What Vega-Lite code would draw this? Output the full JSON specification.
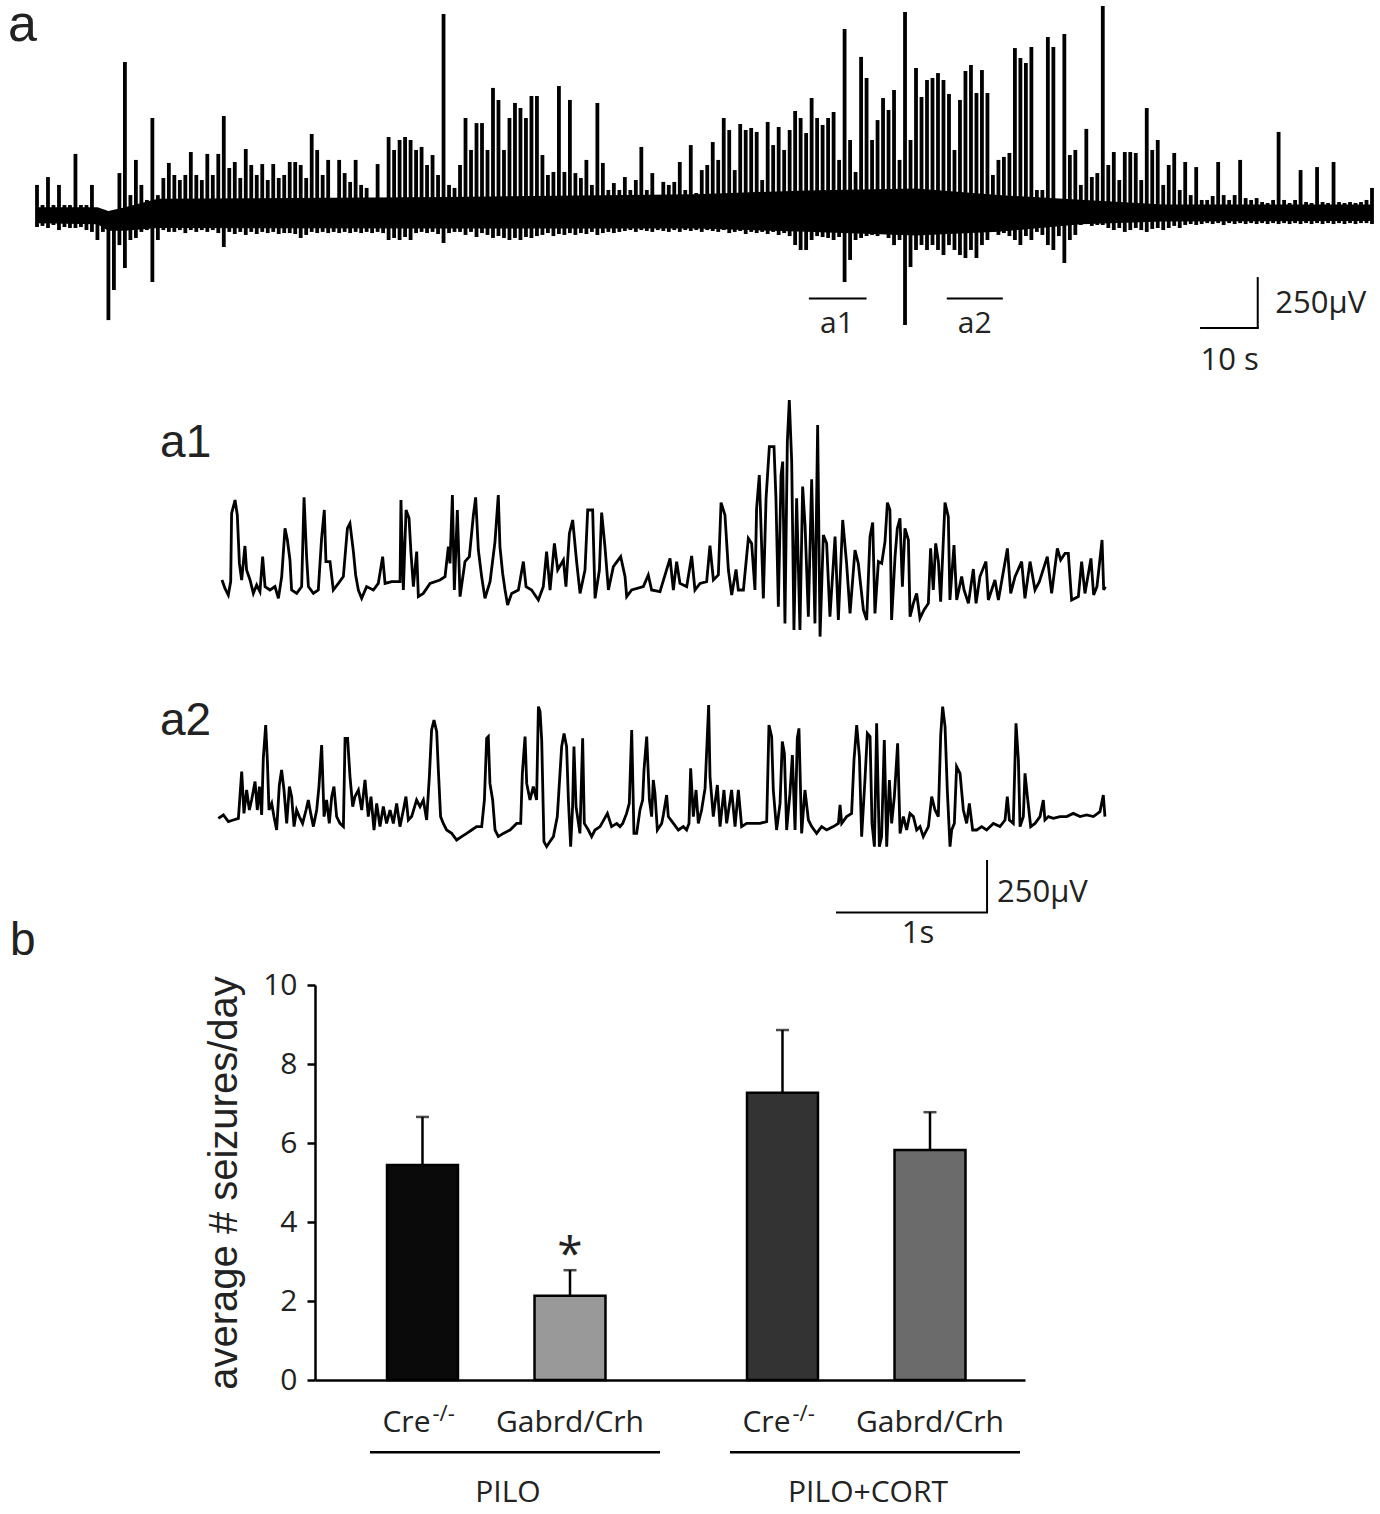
{
"$schema":"https://vega.github.io/schema/vega-lite/v6.json",
"width":1380,"height":1514,"autosize":{"type":"none"},"padding":0,
"background":"white",
"config":{"view":{"stroke":null},"text":{"color":"#1a1a1a"}},
"datasets":{
"core":[{"t":0,"hi":25,"lo":-60},{"t":11,"hi":25,"lo":-65},{"t":13,"hi":5,"lo":-100},{"t":16,"hi":25,"lo":-100},{"t":22,"hi":70,"lo":-85},{"t":75,"hi":80,"lo":-88},{"t":120,"hi":95,"lo":-88},{"t":140,"hi":115,"lo":-105},{"t":160,"hi":125,"lo":-125},{"t":175,"hi":90,"lo":-105},{"t":190,"hi":65,"lo":-65},{"t":205,"hi":40,"lo":-50},{"t":243,"hi":40,"lo":-48}],
"main":[{"t":0,"hi":144,"lo":-80},{"t":1,"hi":37,"lo":-74},{"t":2,"hi":186,"lo":-85},{"t":3,"hi":37,"lo":-69},{"t":4,"hi":144,"lo":-96},{"t":5,"hi":37,"lo":-80},{"t":6,"hi":37,"lo":-85},{"t":7,"hi":309,"lo":-85},{"t":8,"hi":37,"lo":-80},{"t":9,"hi":37,"lo":-96},{"t":10,"hi":144,"lo":-106},{"t":11,"hi":11,"lo":-149},{"t":12,"hi":11,"lo":-106},{"t":13,"hi":-16,"lo":-575},{"t":14,"hi":0,"lo":-415},{"t":15,"hi":207,"lo":-176},{"t":16,"hi":798,"lo":-298},{"t":17,"hi":90,"lo":-149},{"t":18,"hi":277,"lo":-138},{"t":19,"hi":144,"lo":-106},{"t":20,"hi":64,"lo":-96},{"t":21,"hi":500,"lo":-372},{"t":22,"hi":90,"lo":-149},{"t":23,"hi":181,"lo":-96},{"t":24,"hi":261,"lo":-106},{"t":25,"hi":197,"lo":-106},{"t":26,"hi":170,"lo":-96},{"t":27,"hi":197,"lo":-112},{"t":28,"hi":319,"lo":-96},{"t":29,"hi":197,"lo":-106},{"t":30,"hi":170,"lo":-96},{"t":31,"hi":309,"lo":-106},{"t":32,"hi":197,"lo":-96},{"t":33,"hi":309,"lo":-112},{"t":34,"hi":511,"lo":-186},{"t":35,"hi":234,"lo":-106},{"t":36,"hi":266,"lo":-117},{"t":37,"hi":181,"lo":-106},{"t":38,"hi":335,"lo":-122},{"t":39,"hi":250,"lo":-106},{"t":40,"hi":197,"lo":-117},{"t":41,"hi":255,"lo":-106},{"t":42,"hi":170,"lo":-112},{"t":43,"hi":255,"lo":-106},{"t":44,"hi":181,"lo":-117},{"t":45,"hi":197,"lo":-112},{"t":46,"hi":266,"lo":-112},{"t":47,"hi":266,"lo":-117},{"t":48,"hi":250,"lo":-138},{"t":49,"hi":181,"lo":-122},{"t":50,"hi":415,"lo":-106},{"t":51,"hi":330,"lo":-112},{"t":52,"hi":197,"lo":-106},{"t":53,"hi":277,"lo":-112},{"t":54,"hi":64,"lo":-106},{"t":55,"hi":277,"lo":-112},{"t":56,"hi":207,"lo":-106},{"t":57,"hi":160,"lo":-112},{"t":58,"hi":277,"lo":-106},{"t":59,"hi":144,"lo":-112},{"t":60,"hi":128,"lo":-106},{"t":61,"hi":64,"lo":-112},{"t":62,"hi":255,"lo":-106},{"t":63,"hi":64,"lo":-112},{"t":64,"hi":399,"lo":-149},{"t":65,"hi":330,"lo":-138},{"t":66,"hi":383,"lo":-149},{"t":67,"hi":399,"lo":-133},{"t":68,"hi":383,"lo":-149},{"t":69,"hi":330,"lo":-112},{"t":70,"hi":346,"lo":-106},{"t":71,"hi":250,"lo":-112},{"t":72,"hi":303,"lo":-106},{"t":73,"hi":197,"lo":-117},{"t":74,"hi":1053,"lo":-165},{"t":75,"hi":144,"lo":-112},{"t":76,"hi":128,"lo":-106},{"t":77,"hi":250,"lo":-106},{"t":78,"hi":500,"lo":-122},{"t":79,"hi":330,"lo":-106},{"t":80,"hi":473,"lo":-133},{"t":81,"hi":473,"lo":-112},{"t":82,"hi":330,"lo":-122},{"t":83,"hi":660,"lo":-138},{"t":84,"hi":596,"lo":-128},{"t":85,"hi":330,"lo":-138},{"t":86,"hi":500,"lo":-149},{"t":87,"hi":580,"lo":-138},{"t":88,"hi":553,"lo":-149},{"t":89,"hi":500,"lo":-133},{"t":90,"hi":617,"lo":-138},{"t":91,"hi":617,"lo":-128},{"t":92,"hi":303,"lo":-122},{"t":93,"hi":197,"lo":-112},{"t":94,"hi":213,"lo":-128},{"t":95,"hi":670,"lo":-117},{"t":96,"hi":213,"lo":-122},{"t":97,"hi":596,"lo":-112},{"t":98,"hi":207,"lo":-122},{"t":99,"hi":181,"lo":-112},{"t":100,"hi":277,"lo":-117},{"t":101,"hi":144,"lo":-106},{"t":102,"hi":580,"lo":-122},{"t":103,"hi":261,"lo":-112},{"t":104,"hi":117,"lo":-106},{"t":105,"hi":154,"lo":-112},{"t":106,"hi":117,"lo":-106},{"t":107,"hi":186,"lo":-101},{"t":108,"hi":117,"lo":-96},{"t":109,"hi":170,"lo":-106},{"t":110,"hi":346,"lo":-96},{"t":111,"hi":117,"lo":-101},{"t":112,"hi":207,"lo":-106},{"t":113,"hi":90,"lo":-96},{"t":114,"hi":160,"lo":-101},{"t":115,"hi":144,"lo":-106},{"t":116,"hi":160,"lo":-96},{"t":117,"hi":266,"lo":-106},{"t":118,"hi":117,"lo":-96},{"t":119,"hi":356,"lo":-101},{"t":120,"hi":101,"lo":-96},{"t":121,"hi":223,"lo":-106},{"t":122,"hi":250,"lo":-96},{"t":123,"hi":372,"lo":-101},{"t":124,"hi":277,"lo":-106},{"t":125,"hi":500,"lo":-96},{"t":126,"hi":436,"lo":-112},{"t":127,"hi":223,"lo":-106},{"t":128,"hi":468,"lo":-101},{"t":129,"hi":436,"lo":-117},{"t":130,"hi":447,"lo":-106},{"t":131,"hi":426,"lo":-112},{"t":132,"hi":170,"lo":-106},{"t":133,"hi":479,"lo":-117},{"t":134,"hi":356,"lo":-106},{"t":135,"hi":452,"lo":-122},{"t":136,"hi":330,"lo":-112},{"t":137,"hi":436,"lo":-128},{"t":138,"hi":537,"lo":-176},{"t":139,"hi":500,"lo":-202},{"t":140,"hi":420,"lo":-202},{"t":141,"hi":606,"lo":-149},{"t":142,"hi":500,"lo":-128},{"t":143,"hi":463,"lo":-133},{"t":144,"hi":500,"lo":-138},{"t":145,"hi":532,"lo":-149},{"t":146,"hi":277,"lo":-133},{"t":147,"hi":974,"lo":-372},{"t":148,"hi":383,"lo":-255},{"t":149,"hi":213,"lo":-149},{"t":150,"hi":825,"lo":-138},{"t":151,"hi":713,"lo":-128},{"t":152,"hi":383,"lo":-122},{"t":153,"hi":489,"lo":-128},{"t":154,"hi":606,"lo":-112},{"t":155,"hi":543,"lo":-138},{"t":156,"hi":649,"lo":-176},{"t":157,"hi":277,"lo":-149},{"t":158,"hi":1064,"lo":-601},{"t":159,"hi":383,"lo":-293},{"t":160,"hi":766,"lo":-202},{"t":161,"hi":612,"lo":-176},{"t":162,"hi":702,"lo":-202},{"t":163,"hi":713,"lo":-176},{"t":164,"hi":739,"lo":-202},{"t":165,"hi":702,"lo":-229},{"t":166,"hi":628,"lo":-176},{"t":167,"hi":330,"lo":-202},{"t":168,"hi":596,"lo":-229},{"t":169,"hi":750,"lo":-245},{"t":170,"hi":782,"lo":-202},{"t":171,"hi":633,"lo":-245},{"t":172,"hi":755,"lo":-176},{"t":173,"hi":633,"lo":-149},{"t":174,"hi":197,"lo":-106},{"t":175,"hi":277,"lo":-122},{"t":176,"hi":293,"lo":-112},{"t":177,"hi":314,"lo":-128},{"t":178,"hi":872,"lo":-149},{"t":179,"hi":819,"lo":-176},{"t":180,"hi":793,"lo":-128},{"t":181,"hi":878,"lo":-149},{"t":182,"hi":117,"lo":-106},{"t":183,"hi":117,"lo":-122},{"t":184,"hi":931,"lo":-176},{"t":185,"hi":878,"lo":-202},{"t":186,"hi":64,"lo":-128},{"t":187,"hi":947,"lo":-271},{"t":188,"hi":303,"lo":-149},{"t":189,"hi":330,"lo":-122},{"t":190,"hi":144,"lo":-69},{"t":191,"hi":442,"lo":-53},{"t":192,"hi":186,"lo":-74},{"t":193,"hi":207,"lo":-69},{"t":194,"hi":1096,"lo":-69},{"t":195,"hi":250,"lo":-85},{"t":196,"hi":319,"lo":-96},{"t":197,"hi":170,"lo":-85},{"t":198,"hi":319,"lo":-106},{"t":199,"hi":319,"lo":-96},{"t":200,"hi":314,"lo":-85},{"t":201,"hi":170,"lo":-96},{"t":202,"hi":553,"lo":-106},{"t":203,"hi":330,"lo":-90},{"t":204,"hi":383,"lo":-85},{"t":205,"hi":144,"lo":-96},{"t":206,"hi":250,"lo":-85},{"t":207,"hi":314,"lo":-74},{"t":208,"hi":117,"lo":-85},{"t":209,"hi":266,"lo":-69},{"t":210,"hi":90,"lo":-64},{"t":211,"hi":239,"lo":-69},{"t":212,"hi":64,"lo":-64},{"t":213,"hi":64,"lo":-59},{"t":214,"hi":85,"lo":-64},{"t":215,"hi":266,"lo":-59},{"t":216,"hi":90,"lo":-69},{"t":217,"hi":64,"lo":-59},{"t":218,"hi":90,"lo":-64},{"t":219,"hi":277,"lo":-59},{"t":220,"hi":74,"lo":-64},{"t":221,"hi":64,"lo":-59},{"t":222,"hi":74,"lo":-64},{"t":223,"hi":53,"lo":-59},{"t":224,"hi":48,"lo":-64},{"t":225,"hi":64,"lo":-59},{"t":226,"hi":426,"lo":-64},{"t":227,"hi":64,"lo":-59},{"t":228,"hi":48,"lo":-64},{"t":229,"hi":64,"lo":-59},{"t":230,"hi":223,"lo":-64},{"t":231,"hi":53,"lo":-59},{"t":232,"hi":48,"lo":-64},{"t":233,"hi":239,"lo":-59},{"t":234,"hi":53,"lo":-64},{"t":235,"hi":48,"lo":-59},{"t":236,"hi":266,"lo":-64},{"t":237,"hi":53,"lo":-59},{"t":238,"hi":48,"lo":-64},{"t":239,"hi":53,"lo":-59},{"t":240,"hi":48,"lo":-64},{"t":241,"hi":53,"lo":-59},{"t":242,"hi":64,"lo":-59},{"t":243,"hi":128,"lo":-64}],
"a1":[{"t":0,"v":50},{"t":0.02,"v":8},{"t":0.042,"v":-25},{"t":0.058,"v":42},{"t":0.064,"v":383},{"t":0.087,"v":450},{"t":0.102,"v":375},{"t":0.116,"v":133},{"t":0.131,"v":50},{"t":0.153,"v":220},{"t":0.164,"v":100},{"t":0.187,"v":50},{"t":0.209,"v":-17},{"t":0.231,"v":25},{"t":0.253,"v":-8},{"t":0.271,"v":167},{"t":0.287,"v":17},{"t":0.32,"v":0},{"t":0.353,"v":17},{"t":0.376,"v":-42},{"t":0.398,"v":67},{"t":0.42,"v":308},{"t":0.436,"v":250},{"t":0.453,"v":150},{"t":0.464,"v":0},{"t":0.498,"v":-17},{"t":0.531,"v":17},{"t":0.547,"v":463},{"t":0.564,"v":167},{"t":0.576,"v":17},{"t":0.609,"v":-17},{"t":0.642,"v":0},{"t":0.664,"v":258},{"t":0.682,"v":400},{"t":0.693,"v":142},{"t":0.72,"v":142},{"t":0.742,"v":0},{"t":0.776,"v":33},{"t":0.809,"v":67},{"t":0.836,"v":308},{"t":0.853,"v":333},{"t":0.876,"v":192},{"t":0.891,"v":75},{"t":0.909,"v":0},{"t":0.931,"v":-42},{"t":0.964,"v":17},{"t":1.009,"v":0},{"t":1.042,"v":33},{"t":1.071,"v":167},{"t":1.087,"v":33},{"t":1.131,"v":42},{"t":1.187,"v":42},{"t":1.193,"v":450},{"t":1.209,"v":0},{"t":1.227,"v":400},{"t":1.247,"v":358},{"t":1.26,"v":183},{"t":1.276,"v":17},{"t":1.298,"v":192},{"t":1.309,"v":-33},{"t":1.342,"v":-17},{"t":1.387,"v":33},{"t":1.453,"v":50},{"t":1.487,"v":67},{"t":1.509,"v":217},{"t":1.52,"v":133},{"t":1.536,"v":475},{"t":1.549,"v":0},{"t":1.569,"v":400},{"t":1.587,"v":-33},{"t":1.62,"v":142},{"t":1.649,"v":167},{"t":1.676,"v":375},{"t":1.691,"v":463},{"t":1.709,"v":200},{"t":1.731,"v":67},{"t":1.753,"v":-42},{"t":1.787,"v":42},{"t":1.82,"v":242},{"t":1.842,"v":475},{"t":1.853,"v":217},{"t":1.871,"v":83},{"t":1.887,"v":0},{"t":1.904,"v":-75},{"t":1.931,"v":-17},{"t":1.976,"v":0},{"t":2.009,"v":142},{"t":2.027,"v":17},{"t":2.064,"v":0},{"t":2.109,"v":-50},{"t":2.142,"v":17},{"t":2.164,"v":192},{"t":2.187,"v":0},{"t":2.216,"v":233},{"t":2.238,"v":100},{"t":2.276,"v":150},{"t":2.293,"v":17},{"t":2.316,"v":283},{"t":2.338,"v":350},{"t":2.364,"v":142},{"t":2.387,"v":-17},{"t":2.42,"v":100},{"t":2.438,"v":400},{"t":2.471,"v":400},{"t":2.487,"v":-42},{"t":2.516,"v":100},{"t":2.531,"v":387},{"t":2.553,"v":217},{"t":2.576,"v":0},{"t":2.609,"v":117},{"t":2.658,"v":167},{"t":2.687,"v":67},{"t":2.698,"v":-33},{"t":2.731,"v":0},{"t":2.809,"v":17},{"t":2.842,"v":75},{"t":2.864,"v":0},{"t":2.92,"v":-8},{"t":2.987,"v":158},{"t":3.009,"v":0},{"t":3.031,"v":142},{"t":3.053,"v":33},{"t":3.098,"v":17},{"t":3.131,"v":170},{"t":3.153,"v":0},{"t":3.187,"v":33},{"t":3.231,"v":42},{"t":3.253,"v":222},{"t":3.276,"v":50},{"t":3.309,"v":75},{"t":3.327,"v":437},{"t":3.353,"v":375},{"t":3.376,"v":100},{"t":3.398,"v":-25},{"t":3.427,"v":103},{"t":3.442,"v":0},{"t":3.476,"v":0},{"t":3.509,"v":258},{"t":3.531,"v":233},{"t":3.553,"v":0},{"t":3.564,"v":408},{"t":3.582,"v":575},{"t":3.609,"v":-42},{"t":3.627,"v":458},{"t":3.649,"v":717},{"t":3.68,"v":717},{"t":3.693,"v":458},{"t":3.709,"v":-83},{"t":3.727,"v":575},{"t":3.738,"v":642},{"t":3.753,"v":-167},{"t":3.769,"v":742},{"t":3.782,"v":950},{"t":3.798,"v":642},{"t":3.813,"v":-200},{"t":3.831,"v":458},{"t":3.853,"v":-200},{"t":3.871,"v":517},{"t":3.887,"v":325},{"t":3.909,"v":-133},{"t":3.931,"v":553},{"t":3.953,"v":-167},{"t":3.971,"v":825},{"t":3.987,"v":-233},{"t":4.009,"v":275},{"t":4.031,"v":233},{"t":4.053,"v":-133},{"t":4.087,"v":267},{"t":4.109,"v":-150},{"t":4.138,"v":350},{"t":4.164,"v":133},{"t":4.187,"v":-117},{"t":4.22,"v":200},{"t":4.242,"v":133},{"t":4.276,"v":-100},{"t":4.298,"v":-150},{"t":4.32,"v":267},{"t":4.338,"v":337},{"t":4.353,"v":-117},{"t":4.376,"v":142},{"t":4.398,"v":133},{"t":4.42,"v":242},{"t":4.436,"v":437},{"t":4.453,"v":400},{"t":4.464,"v":-150},{"t":4.487,"v":167},{"t":4.502,"v":308},{"t":4.52,"v":358},{"t":4.536,"v":17},{"t":4.553,"v":308},{"t":4.576,"v":250},{"t":4.587,"v":-133},{"t":4.609,"v":-67},{"t":4.631,"v":-17},{"t":4.653,"v":-142},{"t":4.68,"v":-100},{"t":4.709,"v":-67},{"t":4.724,"v":208},{"t":4.742,"v":0},{"t":4.758,"v":233},{"t":4.776,"v":142},{"t":4.791,"v":-58},{"t":4.82,"v":437},{"t":4.842,"v":367},{"t":4.853,"v":-50},{"t":4.88,"v":225},{"t":4.898,"v":-50},{"t":4.931,"v":67},{"t":4.947,"v":0},{"t":4.976,"v":-67},{"t":5.009,"v":105},{"t":5.027,"v":-67},{"t":5.053,"v":67},{"t":5.093,"v":142},{"t":5.109,"v":-50},{"t":5.153,"v":50},{"t":5.176,"v":-50},{"t":5.236,"v":208},{"t":5.258,"v":-17},{"t":5.287,"v":67},{"t":5.331,"v":142},{"t":5.353,"v":-42},{"t":5.387,"v":142},{"t":5.42,"v":0},{"t":5.449,"v":42},{"t":5.502,"v":167},{"t":5.531,"v":-17},{"t":5.569,"v":208},{"t":5.591,"v":150},{"t":5.62,"v":183},{"t":5.642,"v":183},{"t":5.664,"v":-50},{"t":5.709,"v":-33},{"t":5.731,"v":142},{"t":5.753,"v":-17},{"t":5.793,"v":158},{"t":5.811,"v":-25},{"t":5.833,"v":17},{"t":5.867,"v":250},{"t":5.878,"v":0},{"t":5.889,"v":17}],
"a2":[{"t":0.002,"v":8},{"t":0.036,"v":25},{"t":0.069,"v":-8},{"t":0.102,"v":0},{"t":0.136,"v":8},{"t":0.158,"v":242},{"t":0.173,"v":33},{"t":0.191,"v":150},{"t":0.209,"v":50},{"t":0.224,"v":100},{"t":0.247,"v":192},{"t":0.262,"v":50},{"t":0.276,"v":167},{"t":0.291,"v":25},{"t":0.302,"v":308},{"t":0.318,"v":475},{"t":0.329,"v":300},{"t":0.34,"v":50},{"t":0.358,"v":83},{"t":0.373,"v":17},{"t":0.391,"v":-50},{"t":0.409,"v":175},{"t":0.424,"v":250},{"t":0.44,"v":150},{"t":0.458,"v":-17},{"t":0.476,"v":167},{"t":0.491,"v":117},{"t":0.507,"v":-33},{"t":0.524,"v":50},{"t":0.542,"v":17},{"t":0.564,"v":-17},{"t":0.587,"v":50},{"t":0.602,"v":100},{"t":0.618,"v":33},{"t":0.636,"v":-33},{"t":0.658,"v":50},{"t":0.673,"v":167},{"t":0.691,"v":375},{"t":0.707,"v":17},{"t":0.724,"v":100},{"t":0.742,"v":-17},{"t":0.758,"v":117},{"t":0.773,"v":167},{"t":0.791,"v":17},{"t":0.813,"v":-17},{"t":0.836,"v":-33},{"t":0.847,"v":408},{"t":0.864,"v":408},{"t":0.88,"v":217},{"t":0.898,"v":67},{"t":0.913,"v":117},{"t":0.936,"v":150},{"t":0.958,"v":50},{"t":0.98,"v":200},{"t":1.002,"v":17},{"t":1.02,"v":117},{"t":1.04,"v":-50},{"t":1.058,"v":83},{"t":1.08,"v":-33},{"t":1.102,"v":67},{"t":1.124,"v":-17},{"t":1.147,"v":50},{"t":1.169,"v":-17},{"t":1.191,"v":83},{"t":1.213,"v":-33},{"t":1.236,"v":50},{"t":1.253,"v":117},{"t":1.269,"v":0},{"t":1.291,"v":17},{"t":1.324,"v":100},{"t":1.347,"v":67},{"t":1.369,"v":100},{"t":1.391,"v":0},{"t":1.409,"v":217},{"t":1.424,"v":450},{"t":1.44,"v":500},{"t":1.458,"v":442},{"t":1.469,"v":250},{"t":1.484,"v":17},{"t":1.502,"v":-17},{"t":1.524,"v":-50},{"t":1.558,"v":-67},{"t":1.591,"v":-100},{"t":1.624,"v":-83},{"t":1.658,"v":-67},{"t":1.691,"v":-50},{"t":1.724,"v":-33},{"t":1.758,"v":-33},{"t":1.776,"v":100},{"t":1.791,"v":408},{"t":1.802,"v":417},{"t":1.813,"v":183},{"t":1.831,"v":100},{"t":1.847,"v":-50},{"t":1.869,"v":-83},{"t":1.902,"v":-67},{"t":1.947,"v":-50},{"t":1.991,"v":-17},{"t":2.018,"v":-17},{"t":2.029,"v":233},{"t":2.047,"v":417},{"t":2.058,"v":183},{"t":2.08,"v":100},{"t":2.102,"v":167},{"t":2.124,"v":100},{"t":2.136,"v":567},{"t":2.147,"v":542},{"t":2.158,"v":400},{"t":2.173,"v":-108},{"t":2.191,"v":-133},{"t":2.213,"v":-108},{"t":2.236,"v":-83},{"t":2.262,"v":17},{"t":2.291,"v":367},{"t":2.307,"v":433},{"t":2.324,"v":367},{"t":2.336,"v":100},{"t":2.351,"v":-133},{"t":2.364,"v":67},{"t":2.373,"v":367},{"t":2.387,"v":67},{"t":2.413,"v":-67},{"t":2.431,"v":408},{"t":2.442,"v":-17},{"t":2.469,"v":-50},{"t":2.491,"v":-83},{"t":2.513,"v":-50},{"t":2.547,"v":-33},{"t":2.596,"v":33},{"t":2.624,"v":-33},{"t":2.658,"v":-17},{"t":2.68,"v":-33},{"t":2.698,"v":-17},{"t":2.724,"v":33},{"t":2.742,"v":83},{"t":2.758,"v":450},{"t":2.773,"v":-67},{"t":2.791,"v":-67},{"t":2.813,"v":50},{"t":2.831,"v":100},{"t":2.84,"v":250},{"t":2.858,"v":417},{"t":2.876,"v":100},{"t":2.891,"v":17},{"t":2.902,"v":200},{"t":2.913,"v":133},{"t":2.929,"v":-50},{"t":2.958,"v":-17},{"t":2.969,"v":25},{"t":2.991,"v":125},{"t":3.002,"v":17},{"t":3.036,"v":-17},{"t":3.069,"v":-50},{"t":3.102,"v":-33},{"t":3.124,"v":-50},{"t":3.14,"v":-17},{"t":3.151,"v":258},{"t":3.169,"v":17},{"t":3.187,"v":150},{"t":3.202,"v":-17},{"t":3.224,"v":50},{"t":3.247,"v":158},{"t":3.262,"v":417},{"t":3.271,"v":575},{"t":3.28,"v":217},{"t":3.302,"v":17},{"t":3.329,"v":175},{"t":3.347,"v":-33},{"t":3.373,"v":150},{"t":3.391,"v":-17},{"t":3.424,"v":150},{"t":3.447,"v":-33},{"t":3.469,"v":150},{"t":3.491,"v":-33},{"t":3.524,"v":-17},{"t":3.569,"v":-17},{"t":3.613,"v":-17},{"t":3.658,"v":-8},{"t":3.673,"v":475},{"t":3.691,"v":417},{"t":3.702,"v":150},{"t":3.724,"v":-50},{"t":3.747,"v":83},{"t":3.762,"v":392},{"t":3.776,"v":333},{"t":3.791,"v":-50},{"t":3.813,"v":133},{"t":3.829,"v":325},{"t":3.847,"v":-50},{"t":3.862,"v":408},{"t":3.873,"v":458},{"t":3.891,"v":-67},{"t":3.913,"v":150},{"t":3.936,"v":0},{"t":3.958,"v":-33},{"t":3.991,"v":-67},{"t":4.024,"v":-33},{"t":4.058,"v":-50},{"t":4.102,"v":-33},{"t":4.136,"v":-17},{"t":4.147,"v":75},{"t":4.158,"v":-17},{"t":4.191,"v":17},{"t":4.224,"v":33},{"t":4.24,"v":300},{"t":4.258,"v":475},{"t":4.276,"v":317},{"t":4.291,"v":-83},{"t":4.313,"v":200},{"t":4.329,"v":433},{"t":4.347,"v":417},{"t":4.36,"v":-17},{"t":4.376,"v":-133},{"t":4.391,"v":483},{"t":4.409,"v":-133},{"t":4.424,"v":-83},{"t":4.442,"v":400},{"t":4.458,"v":-133},{"t":4.476,"v":200},{"t":4.491,"v":-17},{"t":4.509,"v":117},{"t":4.531,"v":383},{"t":4.547,"v":-67},{"t":4.569,"v":17},{"t":4.591,"v":-50},{"t":4.613,"v":33},{"t":4.636,"v":17},{"t":4.658,"v":-50},{"t":4.68,"v":-33},{"t":4.702,"v":-83},{"t":4.736,"v":-33},{"t":4.758,"v":117},{"t":4.78,"v":50},{"t":4.802,"v":17},{"t":4.818,"v":425},{"t":4.831,"v":567},{"t":4.847,"v":467},{"t":4.862,"v":150},{"t":4.88,"v":-133},{"t":4.891,"v":-50},{"t":4.909,"v":-17},{"t":4.924,"v":267},{"t":4.947,"v":233},{"t":4.969,"v":50},{"t":4.991,"v":-17},{"t":5.009,"v":83},{"t":5.031,"v":-50},{"t":5.058,"v":-50},{"t":5.091,"v":-33},{"t":5.124,"v":-50},{"t":5.169,"v":-17},{"t":5.213,"v":-33},{"t":5.247,"v":0},{"t":5.262,"v":117},{"t":5.276,"v":0},{"t":5.302,"v":-17},{"t":5.32,"v":483},{"t":5.336,"v":300},{"t":5.347,"v":-33},{"t":5.369,"v":17},{"t":5.38,"v":233},{"t":5.396,"v":117},{"t":5.418,"v":-33},{"t":5.447,"v":-17},{"t":5.48,"v":17},{"t":5.502,"v":100},{"t":5.513,"v":0},{"t":5.536,"v":17},{"t":5.569,"v":8},{"t":5.613,"v":17},{"t":5.658,"v":17},{"t":5.702,"v":33},{"t":5.747,"v":17},{"t":5.791,"v":25},{"t":5.836,"v":17},{"t":5.88,"v":42},{"t":5.902,"v":125},{"t":5.913,"v":17}],
"bars":[{"group":"PILO","genotype":"Cre-/-","id":"PILO Cre","mean":5.44,"upper":6.66,"sig":""},{"group":"PILO","genotype":"Gabrd/Crh","id":"PILO Gabrd","mean":2.13,"upper":2.78,"sig":"*"},{"group":"PILO+CORT","genotype":"Cre-/-","id":"CORT Cre","mean":7.27,"upper":8.86,"sig":""},{"group":"PILO+CORT","genotype":"Gabrd/Crh","id":"CORT Gabrd","mean":5.82,"upper":6.78,"sig":""}],
"groups":[{"group":"PILO"},{"group":"PILO+CORT"}]
},
"resolve":{"scale":{"x":"independent","y":"independent","color":"independent"},"axis":{"x":"independent","y":"independent"}},
"layer":[
{"layer":[
{"data":{"name":"core"},"mark":{"type":"area","color":"black"},"encoding":{"x":{"field":"t","type":"quantitative","scale":{"domain":[0,243],"range":[37,1372],"nice":false,"zero":false},"axis":null},"y":{"field":"hi","type":"quantitative","scale":{"domain":[-600,1100],"range":[324.8,5.2],"nice":false,"zero":false},"axis":null},"y2":{"field":"lo"}}},
{"data":{"name":"main"},"mark":{"type":"rule","color":"black","strokeWidth":3.8},"encoding":{"x":{"field":"t","type":"quantitative","scale":{"domain":[0,243],"range":[37,1372],"nice":false,"zero":false},"axis":null},"y":{"field":"hi","type":"quantitative","scale":{"domain":[-600,1100],"range":[324.8,5.2],"nice":false,"zero":false},"axis":null},"y2":{"field":"lo"}}},
{"data":{"values":[{"win":"a1","start":140.5,"end":151.0},{"win":"a2","start":165.6,"end":175.8}]},"mark":{"type":"rule","color":"black","strokeWidth":2},"encoding":{"x":{"field":"start","type":"quantitative","scale":{"domain":[0,243],"range":[37,1372],"nice":false,"zero":false},"axis":null},"x2":{"field":"end"},"y":{"datum":-460,"type":"quantitative","scale":{"domain":[-600,1100],"range":[324.8,5.2],"nice":false,"zero":false},"axis":null}}},
{"data":{"values":[{"win":"a1","start":140.5,"end":151.0},{"win":"a2","start":165.6,"end":175.8}]},"mark":{"type":"text","font":"Open Sans","fontSize":30,"baseline":"alphabetic","align":"center","dx":28,"color":"#222"},"encoding":{"x":{"field":"start","type":"quantitative","scale":{"domain":[0,243],"range":[37,1372],"nice":false,"zero":false},"axis":null},"y":{"datum":-644,"type":"quantitative","scale":{"domain":[-600,1100],"range":[324.8,5.2],"nice":false,"zero":false},"axis":null},"text":{"field":"win"}}},
{"data":{"values":[{}]},"mark":{"type":"rule","color":"black","strokeWidth":2},"encoding":{"x":{"datum":222.2,"type":"quantitative","scale":{"domain":[0,243],"range":[37,1372],"nice":false,"zero":false},"axis":null},"y":{"datum":-346,"type":"quantitative","scale":{"domain":[-600,1100],"range":[324.8,5.2],"nice":false,"zero":false},"axis":null},"y2":{"datum":-617}}},
{"data":{"values":[{}]},"mark":{"type":"rule","color":"black","strokeWidth":2},"encoding":{"x":{"datum":211.7,"type":"quantitative","scale":{"domain":[0,243],"range":[37,1372],"nice":false,"zero":false},"axis":null},"x2":{"datum":222.4},"y":{"datum":-617,"type":"quantitative","scale":{"domain":[-600,1100],"range":[324.8,5.2],"nice":false,"zero":false},"axis":null}}},
{"data":{"values":[{}]},"mark":{"type":"text","text":"250µV","font":"Open Sans","fontSize":31,"align":"left","baseline":"alphabetic","color":"#222"},"encoding":{"x":{"datum":225.4,"type":"quantitative","scale":{"domain":[0,243],"range":[37,1372],"nice":false,"zero":false},"axis":null},"y":{"datum":-537,"type":"quantitative","scale":{"domain":[-600,1100],"range":[324.8,5.2],"nice":false,"zero":false},"axis":null}}},
{"data":{"values":[{}]},"mark":{"type":"text","text":"10 s","font":"Open Sans","fontSize":31,"align":"center","baseline":"alphabetic","color":"#222"},"encoding":{"x":{"datum":217.1,"type":"quantitative","scale":{"domain":[0,243],"range":[37,1372],"nice":false,"zero":false},"axis":null},"y":{"datum":-841,"type":"quantitative","scale":{"domain":[-600,1100],"range":[324.8,5.2],"nice":false,"zero":false},"axis":null}}},
{"data":{"values":[{}]},"mark":{"type":"text","text":"a","font":"Liberation Sans","fontSize":52,"align":"left","baseline":"alphabetic","color":"#222"},"encoding":{"x":{"datum":-5.3,"type":"quantitative","scale":{"domain":[0,243],"range":[37,1372],"nice":false,"zero":false},"axis":null},"y":{"datum":912,"type":"quantitative","scale":{"domain":[-600,1100],"range":[324.8,5.2],"nice":false,"zero":false},"axis":null}}}
]},
{"layer":[
{"data":{"name":"a1"},"mark":{"type":"line","color":"black","strokeWidth":2.8,"strokeJoin":"miter"},"encoding":{"x":{"field":"t","type":"quantitative","scale":{"domain":[0,5.9],"range":[222,1107],"nice":false,"zero":false},"axis":null},"y":{"field":"v","type":"quantitative","scale":{"domain":[-400,1000],"range":[670,390],"nice":false,"zero":false},"axis":null}}},
{"data":{"values":[{}]},"mark":{"type":"text","text":"a1","font":"Liberation Sans","fontSize":46,"align":"left","baseline":"alphabetic","color":"#222"},"encoding":{"x":{"datum":-0.413,"type":"quantitative","scale":{"domain":[0,5.9],"range":[222,1107],"nice":false,"zero":false},"axis":null},"y":{"datum":665,"type":"quantitative","scale":{"domain":[-400,1000],"range":[670,390],"nice":false,"zero":false},"axis":null}}}
]},
{"layer":[
{"data":{"name":"a2"},"mark":{"type":"line","color":"black","strokeWidth":2.8,"strokeJoin":"miter"},"encoding":{"x":{"field":"t","type":"quantitative","scale":{"domain":[0,5.9],"range":[218,1103],"nice":false,"zero":false},"axis":null},"y":{"field":"v","type":"quantitative","scale":{"domain":[-400,1000],"range":[900,620],"nice":false,"zero":false},"axis":null}}},
{"data":{"values":[{}]},"mark":{"type":"text","text":"a2","font":"Liberation Sans","fontSize":46,"align":"left","baseline":"alphabetic","color":"#222"},"encoding":{"x":{"datum":-0.387,"type":"quantitative","scale":{"domain":[0,5.9],"range":[218,1103],"nice":false,"zero":false},"axis":null},"y":{"datum":425,"type":"quantitative","scale":{"domain":[-400,1000],"range":[900,620],"nice":false,"zero":false},"axis":null}}},
{"data":{"values":[{}]},"mark":{"type":"text","text":"b","font":"Liberation Sans","fontSize":46,"align":"left","baseline":"alphabetic","color":"#222"},"encoding":{"x":{"datum":-1.387,"type":"quantitative","scale":{"domain":[0,5.9],"range":[218,1103],"nice":false,"zero":false},"axis":null},"y":{"datum":-675,"type":"quantitative","scale":{"domain":[-400,1000],"range":[900,620],"nice":false,"zero":false},"axis":null}}},
{"data":{"values":[{}]},"mark":{"type":"rule","color":"black","strokeWidth":2},"encoding":{"x":{"datum":5.127,"type":"quantitative","scale":{"domain":[0,5.9],"range":[218,1103],"nice":false,"zero":false},"axis":null},"y":{"datum":-200,"type":"quantitative","scale":{"domain":[-400,1000],"range":[900,620],"nice":false,"zero":false},"axis":null},"y2":{"datum":-463}}},
{"data":{"values":[{}]},"mark":{"type":"rule","color":"black","strokeWidth":2},"encoding":{"x":{"datum":4.12,"type":"quantitative","scale":{"domain":[0,5.9],"range":[218,1103],"nice":false,"zero":false},"axis":null},"x2":{"datum":5.133},"y":{"datum":-463,"type":"quantitative","scale":{"domain":[-400,1000],"range":[900,620],"nice":false,"zero":false},"axis":null}}},
{"data":{"values":[{}]},"mark":{"type":"text","text":"250µV","font":"Open Sans","fontSize":31,"align":"left","baseline":"alphabetic","color":"#222"},"encoding":{"x":{"datum":5.193,"type":"quantitative","scale":{"domain":[0,5.9],"range":[218,1103],"nice":false,"zero":false},"axis":null},"y":{"datum":-410,"type":"quantitative","scale":{"domain":[-400,1000],"range":[900,620],"nice":false,"zero":false},"axis":null}}},
{"data":{"values":[{}]},"mark":{"type":"text","text":"1s","font":"Open Sans","fontSize":31,"align":"center","baseline":"alphabetic","color":"#222"},"encoding":{"x":{"datum":4.667,"type":"quantitative","scale":{"domain":[0,5.9],"range":[218,1103],"nice":false,"zero":false},"axis":null},"y":{"datum":-615,"type":"quantitative","scale":{"domain":[-400,1000],"range":[900,620],"nice":false,"zero":false},"axis":null}}}
]},
{"layer":[
{"data":{"name":"bars"},"mark":{"type":"bar","stroke":"black","strokeWidth":2.5},"encoding":{"x":{"field":"group","type":"nominal","scale":{"domain":["PILO","PILO+CORT"],"range":[315,1025],"paddingInner":0.1944,"paddingOuter":0.0833,"align":0.9167},"axis":{"orient":"bottom","offset":-134,"domain":true,"domainColor":"black","domainWidth":2.5,"ticks":false,"labels":false,"title":null,"grid":false}},"xOffset":{"field":"genotype","type":"nominal","scale":{"domain":["Cre-/-","Gabrd/Crh"],"paddingInner":0.519,"paddingOuter":0.2425,"align":0.238}},"y":{"field":"mean","type":"quantitative","scale":{"domain":[0,10],"range":[1380,985],"nice":false,"zero":true},"axis":{"orient":"left","offset":-315,"values":[0,2,4,6,8,10],"format":"d","domain":true,"domainColor":"black","domainWidth":2.5,"ticks":true,"tickColor":"black","tickWidth":2.5,"tickSize":8,"labelFont":"Open Sans","labelFontSize":30,"labelColor":"#222","labelPadding":10,"grid":false,"title":"average # seizures/day","titleFont":"Liberation Sans","titleFontSize":40,"titleFontWeight":"normal","titleColor":"#222","titlePadding":18}},"y2":{"datum":0},"color":{"field":"id","type":"nominal","scale":{"domain":["PILO Cre","PILO Gabrd","CORT Cre","CORT Gabrd"],"range":["#0a0a0a","#999999","#333333","#6b6b6b"]},"legend":null}}},
{"data":{"name":"bars"},"mark":{"type":"rule","color":"black","strokeWidth":2.5},"encoding":{"x":{"field":"group","type":"nominal","scale":{"domain":["PILO","PILO+CORT"],"range":[315,1025],"paddingInner":0.1944,"paddingOuter":0.0833,"align":0.9167}},"xOffset":{"field":"genotype","type":"nominal","scale":{"domain":["Cre-/-","Gabrd/Crh"],"paddingInner":0.519,"paddingOuter":0.2425,"align":0.238}},"y":{"field":"mean","type":"quantitative","scale":{"domain":[0,10],"range":[1380,985],"nice":false,"zero":true}},"y2":{"field":"upper"}}},
{"data":{"name":"bars"},"mark":{"type":"tick","color":"black","thickness":2.5,"size":13,"orient":"horizontal"},"encoding":{"x":{"field":"group","type":"nominal","scale":{"domain":["PILO","PILO+CORT"],"range":[315,1025],"paddingInner":0.1944,"paddingOuter":0.0833,"align":0.9167}},"xOffset":{"field":"genotype","type":"nominal","scale":{"domain":["Cre-/-","Gabrd/Crh"],"paddingInner":0.519,"paddingOuter":0.2425,"align":0.238}},"y":{"field":"upper","type":"quantitative","scale":{"domain":[0,10],"range":[1380,985],"nice":false,"zero":true}}}},
{"data":{"name":"bars"},"mark":{"type":"text","font":"Open Sans","fontSize":46,"baseline":"middle","align":"center","dy":-14,"color":"#222"},"encoding":{"x":{"field":"group","type":"nominal","scale":{"domain":["PILO","PILO+CORT"],"range":[315,1025],"paddingInner":0.1944,"paddingOuter":0.0833,"align":0.9167}},"xOffset":{"field":"genotype","type":"nominal","scale":{"domain":["Cre-/-","Gabrd/Crh"],"paddingInner":0.519,"paddingOuter":0.2425,"align":0.238}},"y":{"field":"upper","type":"quantitative","scale":{"domain":[0,10],"range":[1380,985],"nice":false,"zero":true}},"text":{"field":"sig"}}},
{"data":{"name":"bars"},"transform":[{"filter":"datum.genotype === 'Cre-/-'"}],"mark":{"type":"text","text":"Cre","font":"Open Sans","fontSize":30,"baseline":"alphabetic","align":"right","dx":8,"color":"#222"},"encoding":{"x":{"field":"group","type":"nominal","scale":{"domain":["PILO","PILO+CORT"],"range":[315,1025],"paddingInner":0.1944,"paddingOuter":0.0833,"align":0.9167}},"xOffset":{"field":"genotype","type":"nominal","scale":{"domain":["Cre-/-","Gabrd/Crh"],"paddingInner":0.519,"paddingOuter":0.2425,"align":0.238}},"y":{"datum":-1.32,"type":"quantitative","scale":{"domain":[0,10],"range":[1380,985],"nice":false,"zero":true}}}},
{"data":{"name":"bars"},"transform":[{"filter":"datum.genotype === 'Cre-/-'"}],"mark":{"type":"text","text":"-/-","font":"Open Sans","fontSize":22,"baseline":"alphabetic","align":"left","dx":10,"dy":-11,"color":"#222"},"encoding":{"x":{"field":"group","type":"nominal","scale":{"domain":["PILO","PILO+CORT"],"range":[315,1025],"paddingInner":0.1944,"paddingOuter":0.0833,"align":0.9167}},"xOffset":{"field":"genotype","type":"nominal","scale":{"domain":["Cre-/-","Gabrd/Crh"],"paddingInner":0.519,"paddingOuter":0.2425,"align":0.238}},"y":{"datum":-1.32,"type":"quantitative","scale":{"domain":[0,10],"range":[1380,985],"nice":false,"zero":true}}}},
{"data":{"name":"bars"},"transform":[{"filter":"datum.genotype === 'Gabrd/Crh'"}],"mark":{"type":"text","font":"Open Sans","fontSize":30,"baseline":"alphabetic","align":"center","color":"#222"},"encoding":{"x":{"field":"group","type":"nominal","scale":{"domain":["PILO","PILO+CORT"],"range":[315,1025],"paddingInner":0.1944,"paddingOuter":0.0833,"align":0.9167}},"xOffset":{"field":"genotype","type":"nominal","scale":{"domain":["Cre-/-","Gabrd/Crh"],"paddingInner":0.519,"paddingOuter":0.2425,"align":0.238}},"y":{"datum":-1.32,"type":"quantitative","scale":{"domain":[0,10],"range":[1380,985],"nice":false,"zero":true}},"text":{"field":"genotype"}}},
{"data":{"name":"groups"},"mark":{"type":"bar","color":"black"},"encoding":{"x":{"field":"group","type":"nominal","scale":{"domain":["PILO","PILO+CORT"],"range":[315,1025],"paddingInner":0.1944,"paddingOuter":0.0833,"align":0.9167}},"y":{"datum":-1.80,"type":"quantitative","scale":{"domain":[0,10],"range":[1380,985],"nice":false,"zero":true}},"y2":{"datum":-1.86}}},
{"data":{"name":"groups"},"mark":{"type":"text","font":"Open Sans","fontSize":30,"baseline":"alphabetic","align":"center","dx":-7,"color":"#222"},"encoding":{"x":{"field":"group","type":"nominal","scale":{"domain":["PILO","PILO+CORT"],"range":[315,1025],"paddingInner":0.1944,"paddingOuter":0.0833,"align":0.9167}},"y":{"datum":-3.09,"type":"quantitative","scale":{"domain":[0,10],"range":[1380,985],"nice":false,"zero":true}},"text":{"field":"group"}}}
]}
]
}
